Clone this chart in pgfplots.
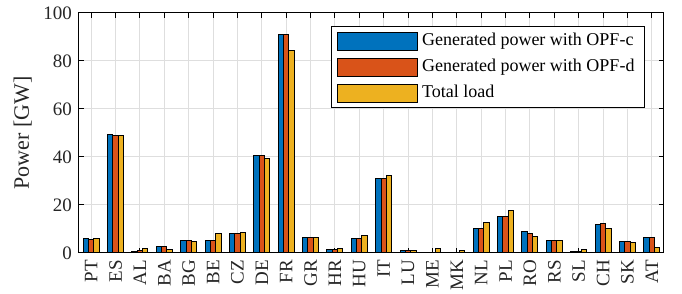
\documentclass[border=0pt]{standalone}
\usepackage{fontspec}
\setmainfont{Liberation Serif}
\usepackage{pgfplots}
\pgfplotsset{compat=1.18}
\definecolor{mblue}{rgb}{0,0.447,0.741}
\definecolor{morange}{rgb}{0.85,0.325,0.098}
\definecolor{myellow}{rgb}{0.929,0.694,0.125}
\pgfplotstableread{
x c d load
0 5.9 5.8 6.2
1 49.3 49.1 48.9
2 0.8 0.9 1.7
3 2.5 2.5 1.5
4 5.0 5.4 4.9
5 5.1 5.1 8.3
6 8.1 8.1 8.4
7 40.8 40.8 39.2
8 91.0 91.0 84.3
9 6.5 6.5 6.4
10 1.4 1.4 1.9
11 6.1 6.1 7.3
12 31.0 31.0 32.4
13 1.1 1.1 1.0
14 0.2 0.2 1.9
15 0.2 0.2 0.9
16 10.0 10.0 12.8
17 15.1 15.1 17.6
18 8.9 8.3 6.7
19 5.3 5.3 5.4
20 0.7 0.8 1.3
21 11.9 12.2 10.1
22 4.6 4.6 4.2
23 6.4 6.4 2.1
}\data
\pgfplotsset{mylegend/.style={legend image code/.code={\draw[##1,line width=0.5pt,draw=black] (0pt,-4.5pt) rectangle (40pt,4.5pt);}}}
\begin{document}
\begin{tikzpicture}
\begin{axis}[name=ax, scale only axis, width=292.5pt, height=120pt,
 xmin=-0.5, xmax=23.5, ymin=0, ymax=100,
 ybar=0pt, bar width=2.65pt,
 xtick={0,...,23},
 xticklabels={PT,ES,AL,BA,BG,BE,CZ,DE,FR,GR,HR,HU,IT,LU,ME,MK,NL,PL,RO,RS,SL,CH,SK,AT},
 xticklabel style={rotate=90, anchor=east, text=black!85, font=\fontsize{9.5pt}{11pt}\selectfont},
 yticklabel style={text=black!85, font=\fontsize{9.5pt}{11pt}\selectfont},
 ytick={0,20,...,100},
 grid=major, major grid style={black!13, line width=0.5pt},
 tick align=inside, major tick length=2.5pt,
 tick style={black, line width=0.5pt},
 axis line style={black, line width=0.5pt},
 /pgf/number format/assume math mode=true,
 ylabel={Power [GW]},
 ylabel style={text=black!85, font=\fontsize{11pt}{13pt}\selectfont, yshift=-1pt},
 legend style={at={(1,1)}, anchor=north east, xshift=-9.5pt, yshift=-6.5pt,
   draw=black, line width=0.5pt, font=\fontsize{9pt}{11pt}\selectfont,
   row sep=1.2pt, inner xsep=3pt, inner ysep=1.5pt},
 legend cell align=left,
]
\addplot[fill=mblue, draw=black, line width=0.5pt, mylegend] table[x=x,y=c]{\data};
\addlegendentry{Generated power with OPF-c}
\addplot[fill=morange, draw=black, line width=0.5pt, mylegend] table[x=x,y=d]{\data};
\addlegendentry{Generated power with OPF-d}
\addplot[fill=myellow, draw=black, line width=0.5pt, mylegend] table[x=x,y=load]{\data};
\addlegendentry{Total load}
\end{axis}
\pgfresetboundingbox
\path (ax.south west) ++(-39.5pt,-20.5pt) coordinate (bbl);
\path (ax.north east) ++(9pt,6.5pt) coordinate (bbr);
\useasboundingbox (bbl) rectangle (bbr);
\end{tikzpicture}
\end{document}
